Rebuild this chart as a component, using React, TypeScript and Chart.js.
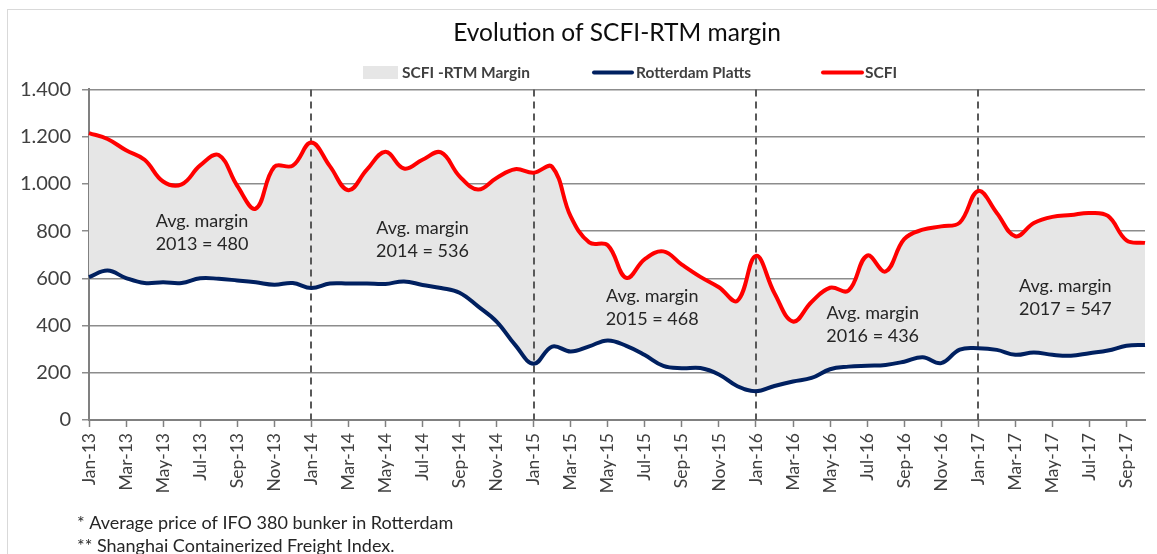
import React, { useEffect, useRef } from "react";
import { Chart, registerables } from "chart.js";

Chart.register(...registerables);

const FONT = "Lato, 'Open Sans', sans-serif";

const months = [
  "Jan-13", "Feb-13", "Mar-13", "Apr-13", "May-13", "Jun-13", "Jul-13", "Aug-13", "Sep-13", "Oct-13", "Nov-13", "Dec-13",
  "Jan-14", "Feb-14", "Mar-14", "Apr-14", "May-14", "Jun-14", "Jul-14", "Aug-14", "Sep-14", "Oct-14", "Nov-14", "Dec-14",
  "Jan-15", "Feb-15", "Mar-15", "Apr-15", "May-15", "Jun-15", "Jul-15", "Aug-15", "Sep-15", "Oct-15", "Nov-15", "Dec-15",
  "Jan-16", "Feb-16", "Mar-16", "Apr-16", "May-16", "Jun-16", "Jul-16", "Aug-16", "Sep-16", "Oct-16", "Nov-16", "Dec-16",
  "Jan-17", "Feb-17", "Mar-17", "Apr-17", "May-17", "Jun-17", "Jul-17", "Aug-17", "Sep-17", "Oct-17",
];

const scfi = [
  1215, 1190, 1142, 1102, 1010, 998, 1078, 1122, 992, 895, 1072, 1077,
  1175, 1075, 973, 1060, 1136, 1065, 1102, 1133, 1032, 976, 1025, 1062,
  1047, 1072, 862, 752, 740, 602, 681, 714, 658, 606, 562, 505,
  695, 537, 417, 500, 560, 548, 696, 629, 766, 806, 820, 836,
  970, 877, 778, 834, 860, 868, 877, 864, 761, 750,
];

const rotterdam = [
  605, 633, 601, 580, 583, 580, 600, 598, 591, 583, 573, 580,
  559, 578, 578, 578, 576, 587, 572, 559, 539, 481, 417, 318,
  238, 311, 290, 312, 337, 314, 275, 229, 219, 220, 193, 143,
  122, 144, 163, 178, 215, 226, 230, 233, 247, 266, 241, 298,
  304, 297, 276, 286, 276, 272, 283, 294, 314, 318,
];

const seriesNames = ["SCFI -RTM Margin", "Rotterdam Platts", "SCFI"];
const dividerMonths = ["Jan-14", "Jan-15", "Jan-16", "Jan-17"];
const marginYears = ["2013", "2014", "2015", "2016", "2017"];
const marginAverages = [480, 536, 468, 436, 547];
const marginLabelAtIndex = [6.1, 18, 30.4, 42.3, 52.7];
const marginLabelAtValue = [793, 764, 474, 403, 516];
const footnotes = [
  "* Average price of IFO 380 bunker in Rotterdam",
  "** Shanghai Containerized Freight Index.",
];
const titleText = "Evolution of SCFI-RTM margin";

const fmtThousands = (v: number) =>
  v >= 1000 ? Math.floor(v / 1000) + "." + String(v % 1000).padStart(3, "0") : String(v);

const decorations = {
  id: "decorations",
  beforeDraw(chart: any) {
    const { ctx } = chart;
    ctx.save();
    ctx.fillStyle = "#ffffff";
    ctx.fillRect(0, 0, chart.width, chart.height);
    ctx.strokeStyle = "#d9d9d9";
    ctx.lineWidth = 1;
    ctx.strokeRect(7.5, 9.5, chart.width + 10, chart.height + 10);
    ctx.restore();
  },
  beforeDatasetsDraw(chart: any) {
    const { ctx, chartArea } = chart;
    const x = chart.scales.x;
    ctx.save();
    ctx.strokeStyle = "#595959";
    ctx.lineWidth = 2;
    ctx.setLineDash([7, 5]);
    dividerMonths.forEach((m) => {
      const px = Math.round(x.getPixelForValue(months.indexOf(m)));
      ctx.beginPath();
      ctx.moveTo(px, chartArea.top);
      ctx.lineTo(px, chartArea.bottom);
      ctx.stroke();
    });
    ctx.restore();
  },
  afterDatasetsDraw(chart: any) {
    const { ctx } = chart;
    const xs = chart.scales.x;
    const ys = chart.scales.y;
    ctx.save();
    ctx.font = `18px ${FONT}`;
    ctx.fillStyle = "#262626";
    ctx.textAlign = "center";
    ctx.textBaseline = "middle";
    marginYears.forEach((yr, i) => {
      const cx = xs.getPixelForValue(marginLabelAtIndex[i]);
      const cy = ys.getPixelForValue(marginLabelAtValue[i]);
      ctx.fillText("Avg. margin", cx, cy - 11.5);
      ctx.fillText(`${yr} = ${marginAverages[i]}`, cx, cy + 11.5);
    });
    ctx.restore();
  },
  afterDraw(chart: any) {
    const { ctx } = chart;
    ctx.save();
    // legend
    const ly = 72.5;
    ctx.font = `bold 15.5px ${FONT}`;
    ctx.textAlign = "left";
    ctx.textBaseline = "middle";
    ctx.fillStyle = "#e6e6e6";
    ctx.fillRect(363, 66, 35, 13);
    ctx.fillStyle = "#404040";
    ctx.fillText(seriesNames[0], 402, ly);
    ctx.lineWidth = 4;
    ctx.lineCap = "round";
    ctx.strokeStyle = "#002060";
    ctx.beginPath();
    ctx.moveTo(594, ly);
    ctx.lineTo(632, ly);
    ctx.stroke();
    ctx.fillText(seriesNames[1], 636, ly);
    ctx.strokeStyle = "#ff0000";
    ctx.beginPath();
    ctx.moveTo(823, ly);
    ctx.lineTo(862, ly);
    ctx.stroke();
    ctx.fillText(seriesNames[2], 865, ly);
    // footnotes
    ctx.font = `18px ${FONT}`;
    ctx.fillStyle = "#262626";
    ctx.fillText(footnotes[0], 77, 523);
    ctx.fillText(footnotes[1], 77, 546);
    ctx.restore();
  },
};

export default function App() {
  const ref = useRef<HTMLCanvasElement | null>(null);

  useEffect(() => {
    if (!ref.current) return;
    const chart = new Chart(ref.current, {
      type: "line",
      data: {
        labels: months,
        datasets: [
          {
            label: seriesNames[0],
            data: scfi,
            fill: 1,
            backgroundColor: "#e6e6e6",
            borderColor: "transparent",
            borderWidth: 0,
            pointRadius: 0,
            tension: 0.4,
          },
          {
            label: seriesNames[1],
            data: rotterdam,
            fill: false,
            borderColor: "#002060",
            borderWidth: 4,
            pointRadius: 0,
            tension: 0.4,
          },
          {
            label: seriesNames[2],
            data: scfi,
            fill: false,
            borderColor: "#ff0000",
            borderWidth: 4,
            pointRadius: 0,
            tension: 0.4,
          },
        ],
      },
      options: {
        responsive: false,
        animation: false,
        devicePixelRatio: 1,
        layout: { padding: { left: 0, right: 12, top: 0, bottom: 0 } },
        plugins: {
          legend: { display: false },
          tooltip: { enabled: false },
          filler: { drawTime: "beforeDatasetsDraw" },
          title: {
            display: true,
            fullSize: false,
            text: titleText,
            color: "#0d0d0d",
            font: { family: FONT, size: 24.5, weight: "normal" },
            padding: { top: 18, bottom: 42 },
          },
        },
        scales: {
          x: {
            type: "category",
            offset: false,
            afterFit: (s: any) => {
              s.height = 134;
              s.paddingLeft = 0;
              s.paddingRight = 0;
            },
            grid: {
              display: true,
              drawOnChartArea: false,
              drawTicks: true,
              tickLength: 7,
              tickWidth: 1.5,
              tickColor: (c: any) => (c.index % 2 === 0 ? "#808080" : "rgba(0,0,0,0)"),
            },
            border: { display: true, color: "#808080", width: 2 },
            ticks: {
              autoSkip: false,
              minRotation: 90,
              maxRotation: 90,
              padding: 6,
              color: "#404040",
              font: { family: FONT, size: 17.5 },
              callback: (_v: any, i: number) => (i % 2 === 0 ? months[i] : ""),
            },
          },
          y: {
            min: 0,
            max: 1400,
            afterFit: (s: any) => {
              s.width = 89;
            },
            grid: {
              color: "#8c8c8c",
              lineWidth: 1.5,
              drawTicks: true,
              tickLength: 7,
              tickColor: "#8c8c8c",
            },
            border: { display: true, color: "#808080", width: 2 },
            ticks: {
              stepSize: 200,
              padding: 11,
              color: "#404040",
              font: { family: FONT, size: 20 },
              callback: (v: any) => fmtThousands(Number(v)),
            },
          },
        },
      },
      plugins: [decorations],
    } as any);
    return () => chart.destroy();
  }, []);

  return (
    <div style={{ position: "absolute", left: 0, top: 0, width: 1157, height: 554 }}>
      <canvas ref={ref} width={1157} height={554} style={{ display: "block" }} />
    </div>
  );
}
